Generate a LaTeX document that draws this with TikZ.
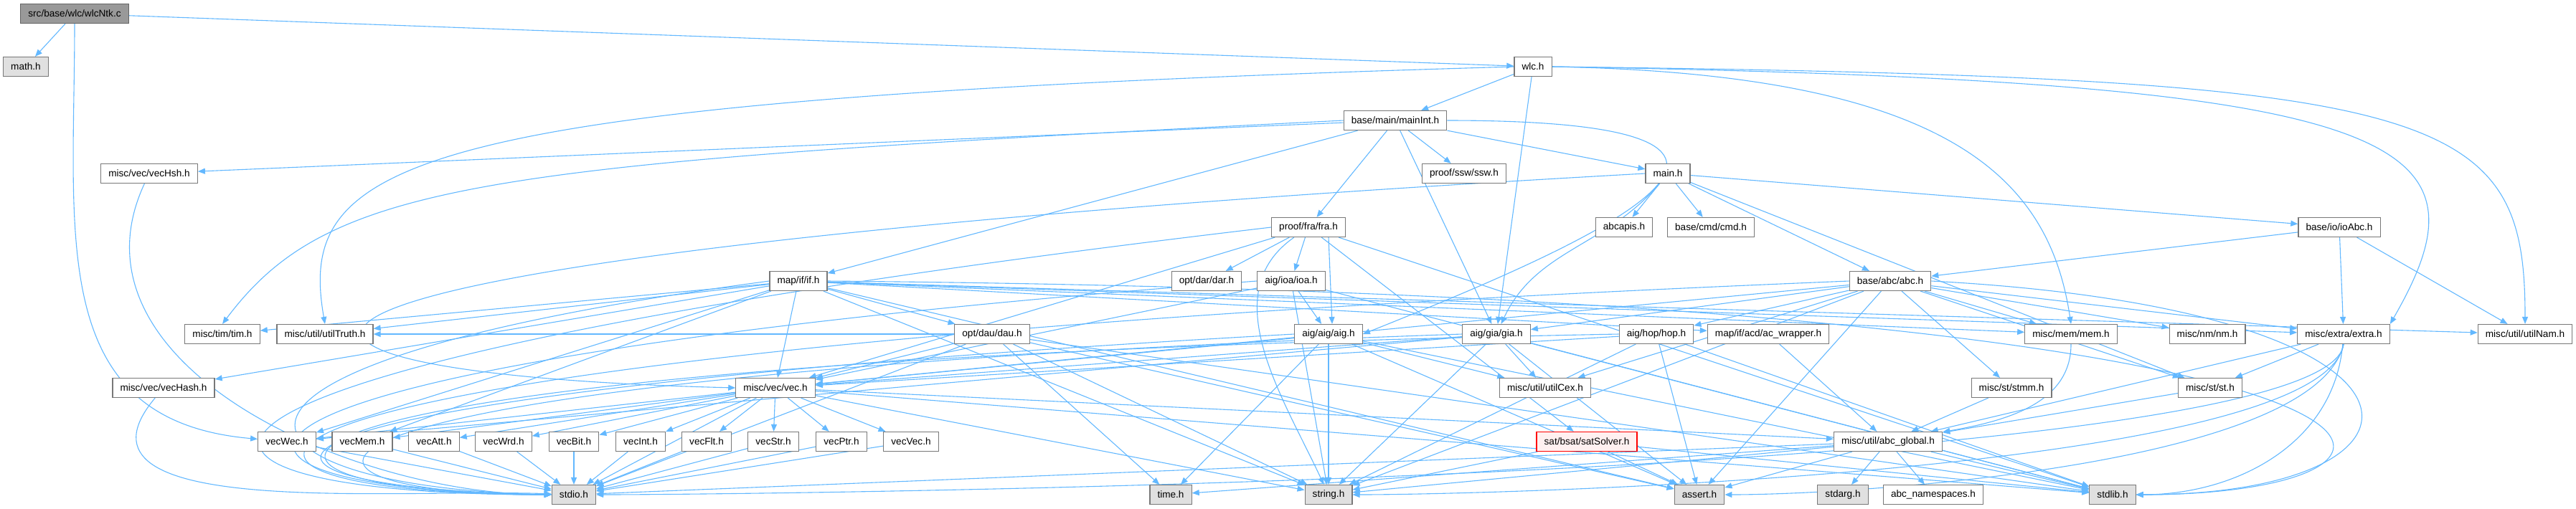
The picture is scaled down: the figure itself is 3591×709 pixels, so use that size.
\documentclass[tikz,border=0pt]{standalone}
\usepackage{fontspec}
\setmainfont{Liberation Sans}
\usepackage{xcolor}
\usepackage{tikz}
\definecolor{edgeblue}{RGB}{99,184,255}
\definecolor{boxgray}{RGB}{120,120,120}
\definecolor{sysgray}{RGB}{224,224,224}
\definecolor{rootgray}{RGB}{153,153,153}
\definecolor{truncpink}{RGB}{255,240,240}
\usetikzlibrary{arrows.meta, positioning, backgrounds}

\begin{document}
\begin{tikzpicture}[
    x=0.5pt, y=-0.5pt,
    hdr/.style={rectangle, draw=boxgray, fill=white, line width=0.6pt, inner xsep=5.3pt, inner ysep=0pt, minimum height=13.5pt, font=\fontsize{6.8}{8}\selectfont},
    syshdr/.style={hdr, fill=sysgray},
    srcfile/.style={hdr, fill=rootgray, draw=black!60},
    trunc/.style={hdr, draw=red, fill=truncpink},
    dep/.style={->, >={Triangle[length=5pt, width=4pt]}, color=edgeblue, line width=0.55pt}
]
    \useasboundingbox (0,0) rectangle (3591,709);

    \node[srcfile] (wlcNtk) at (104,19) {src/base/wlc/wlcNtk.c};

    \node[syshdr] (math) at (36,93) {math.h};
    \node[hdr] (wlc) at (2137,93) {wlc.h};

    \node[hdr] (mainInt) at (1945,168) {base/main/mainInt.h};

    \node[hdr] (vecHsh) at (208,242) {misc/vec/vecHsh.h};
    \node[hdr] (ssw) at (2041,242) {proof/ssw/ssw.h};
    \node[hdr] (main) at (2325,242) {main.h};

    \node[hdr] (fra) at (1824,317) {proof/fra/fra.h};
    \node[hdr] (abcapis) at (2264,317) {abcapis.h};
    \node[hdr] (cmd) at (2385,317) {base/cmd/cmd.h};
    \node[hdr] (ioAbc) at (3261,317) {base/io/ioAbc.h};

    \node[hdr] (if) at (1113,392) {map/if/if.h};
    \node[hdr] (dar) at (1682,392) {opt/dar/dar.h};
    \node[hdr] (ioa) at (1800,392) {aig/ioa/ioa.h};
    \node[hdr] (abc) at (2635,392) {base/abc/abc.h};

    \node[hdr] (tim) at (310,466) {misc/tim/tim.h};
    \node[hdr] (utilTruth) at (453,466) {misc/util/utilTruth.h};
    \node[hdr] (dau) at (1383,466) {opt/dau/dau.h};
    \node[hdr] (aig) at (1852,466) {aig/aig/aig.h};
    \node[hdr] (gia) at (2086,466) {aig/gia/gia.h};
    \node[hdr] (hop) at (2309,466) {aig/hop/hop.h};
    \node[hdr] (acw) at (2465,466) {map/if/acd/ac\_wrapper.h};
    \node[hdr] (mem) at (2887,466) {misc/mem/mem.h};
    \node[hdr] (nm) at (3077,466) {misc/nm/nm.h};
    \node[hdr] (extra) at (3267,466) {misc/extra/extra.h};
    \node[hdr] (utilNam) at (3520,466) {misc/util/utilNam.h};

    \node[hdr] (vecHash) at (228,541) {misc/vec/vecHash.h};
    \node[hdr] (vec) at (1081,541) {misc/vec/vec.h};
    \node[hdr] (utilCex) at (2154,541) {misc/util/utilCex.h};
    \node[hdr] (stmm) at (2804,541) {misc/st/stmm.h};
    \node[hdr] (st) at (3081,541) {misc/st/st.h};

    \node[hdr] (vecWec) at (400,616) {vecWec.h};
    \node[hdr] (vecMem) at (505,616) {vecMem.h};
    \node[hdr] (vecAtt) at (605,616) {vecAtt.h};
    \node[hdr] (vecWrd) at (702,616) {vecWrd.h};
    \node[hdr] (vecBit) at (800,616) {vecBit.h};
    \node[hdr] (vecInt) at (893,616) {vecInt.h};
    \node[hdr] (vecFlt) at (985,616) {vecFlt.h};
    \node[hdr] (vecStr) at (1078,616) {vecStr.h};
    \node[hdr] (vecPtr) at (1173,616) {vecPtr.h};
    \node[hdr] (vecVec) at (1270,616) {vecVec.h};
    \node[trunc] (satSolver) at (2212,616) {sat/bsat/satSolver.h};
    \node[hdr] (abcGlobal) at (2632,616) {misc/util/abc\_global.h};

    \node[syshdr] (stdio) at (800,690) {stdio.h};
    \node[syshdr] (time) at (1632,690) {time.h};
    \node[syshdr] (string) at (1852,690) {string.h};
    \node[syshdr] (assert) at (2369,690) {assert.h};
    \node[syshdr] (stdarg) at (2569,690) {stdarg.h};
    \node[hdr] (abcNs) at (2695,690) {abc\_namespaces.h};
    \node[syshdr] (stdlib) at (2945,690) {stdlib.h};

    \begin{scope}[on background layer]
        % top of the graph
        \path[dep] (wlcNtk) edge (math) edge (wlc)
            edge[out=-90, in=175, looseness=1.2] (vecWec);
        \path[dep] (wlc) edge (mainInt) edge (gia);
        \draw[dep] (wlc.west) .. controls +(-1550,45) and +(-40,-230) .. (utilTruth.north);
        \draw[dep] (wlc.east) .. controls +(560,10) and +(-30,-200) .. (mem.north);
        \draw[dep] (wlc.east) .. controls +(1200,20) and +(150,-260) .. (extra.north east);
        \draw[dep] (wlc.east) .. controls +(1250,15) and +(0,-300) .. (utilNam.north);

        \path[dep] (mainInt) edge (vecHsh) edge (if) edge (fra) edge (gia) edge (ssw) edge (main);
        \draw[dep] (mainInt.west) .. controls +(-1200,60) and +(150,-200) .. (tim.north);
        \draw[dep] (mainInt.east) .. controls +(600,0) and +(300,-120) .. (aig.east);

        \path[dep] (main) edge (abcapis) edge (cmd) edge (ioAbc) edge (abc)
            edge[out=-130, in=65] (gia) edge (st);
        \draw[dep] (main.west) .. controls +(-2150,120) and +(-800,-20) .. (vec.west);
        \path[dep] (ioAbc) edge (abc) edge (extra) edge (utilNam);

        \path[dep] (fra) edge (dar) edge (ioa) edge (satSolver) edge (vec) edge (stdlib)
            edge[out=215, in=115] (string);
        \draw[dep] ([xshift=14pt]fra.south) -- ([xshift=2.5pt]aig.north);
        \draw[dep] (fra.west) .. controls +(-1700,200) and +(-620,0) .. (stdio.west);

        % middle rows
        \path[dep] (if) edge (vec) edge (mem) edge (tim) edge (utilTruth) edge (utilNam)
            edge (vecMem) edge (vecWec) edge (vecHash) edge (dau) edge (acw) edge (extra)
            edge (string) edge (assert);
        \draw[dep] (if.west) .. controls +(-900,120) and +(-450,-10) .. (stdio.west);
        \draw[dep] (if.east) .. controls +(2350,20) and +(500,0) .. (stdlib.east);
        \path[dep] (ioa) edge (aig) edge (vec) edge (string) edge (stdlib);
        \draw[dep] (ioa.west) .. controls +(-1600,120) and +(-560,-5) .. (stdio.west);
        \path[dep] (dau) edge (vec) edge (utilTruth) edge (time) edge (string) edge (stdlib)
            edge (assert) edge (stdio);
        \path[dep] (aig) edge (vec) edge (utilCex) edge (time) edge (stdlib)
            edge (string) edge (assert);
        \draw[dep] (aig.west) .. controls +(-1620,90) and +(-500,-10) .. (stdio.west);
        \path[dep] (gia) edge (vec) edge (vecWec) edge (utilCex) edge (stdlib)
            edge (string) edge (assert);
        \draw[dep] (gia.west) .. controls +(-1750,60) and +(-450,0) .. (stdio.west);
        \path[dep] (hop) edge (vec) edge (stdlib) edge (string) edge (assert);
        \draw[dep] (hop.west) .. controls +(-2100,40) and +(-520,0) .. (stdio.west);
        \path[dep] (abc) edge (vec) edge (hop) edge (gia) edge (st) edge (stmm) edge (nm)
            edge (mem) edge (utilCex) edge (extra) edge (string) edge (assert);
        \draw[dep] (abc.west) .. controls +(-2450,100) and +(-600,0) .. (stdio.west);
        \draw[dep] (abc.east) .. controls +(750,40) and +(450,0) .. (stdlib.east);

        \path[dep] (vec) edge (vecWec) edge (vecMem) edge (vecAtt) edge (vecWrd) edge (vecBit)
            edge (vecInt) edge (vecFlt) edge (vecStr) edge (vecPtr) edge (vecVec)
            edge (abcGlobal) edge (stdio) edge (stdlib) edge (string);

        % vector headers
        \path[dep] (vecHsh) edge[out=-115, in=180] (stdio);
        \path[dep] (vecHash) edge[out=-130, in=178] (stdio);
        \path[dep] (vecWec) edge (stdio);
        \path[dep] (vecMem) edge (stdio);
        \path[dep] (vecAtt) edge (stdio);
        \path[dep] (vecWrd) edge (stdio);
        \path[dep] (vecBit) edge (stdio);
        \path[dep] (vecInt) edge (stdio);
        \path[dep] (vecFlt) edge (stdio);
        \path[dep] (vecStr) edge (stdio);
        \path[dep] (vecPtr) edge (stdio);
        \path[dep] (vecVec) edge (stdio);

        % lower part
        \path[dep] (satSolver) edge (stdlib) edge (assert) edge (string);
        \path[dep] (acw) edge (abcGlobal);
        \path[dep] (mem) edge[out=-90, in=10] (abcGlobal);
        \path[dep] (stmm) edge (abcGlobal);
        \path[dep] (st) edge (abcGlobal);
        \path[dep] (extra) edge (st) edge (abcGlobal) edge[out=-95, in=0] (stdlib);
        \draw[dep] (extra.south) .. controls +(-20,190) and +(200,0) .. (stdio.east);
        \draw[dep] (extra.south) .. controls +(-30,180) and +(200,0) .. (string.east);
        \draw[dep] (extra.south) .. controls +(-40,170) and +(180,0) .. (assert.east);
        \path[dep] (abcGlobal) edge (stdio) edge (stdlib) edge (string) edge (assert)
            edge (stdarg) edge (abcNs) edge (time);
    \end{scope}
\end{tikzpicture}
\end{document}
